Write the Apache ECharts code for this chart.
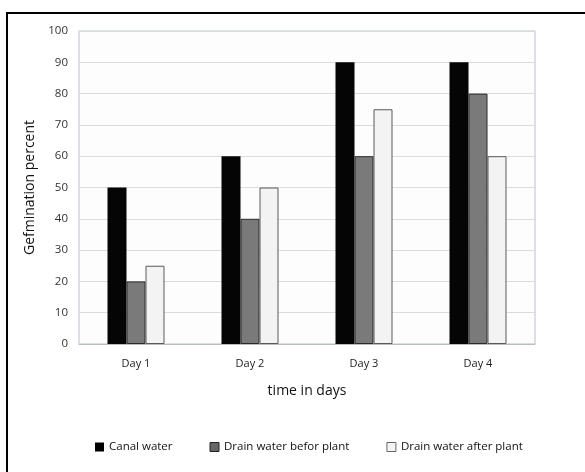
<!DOCTYPE html>
<html>
<head>
<meta charset="utf-8">
<script src="https://cdn.jsdelivr.net/npm/echarts@6/dist/echarts.min.js"></script>
<style>
  html, body { margin: 0; padding: 0; background: #fff; }
  #chart { width: 585px; height: 472px; }
</style>
</head>
<body>
<div id="chart"></div>
<script>
// Germination data per day
const days = ['Day 1', 'Day 2', 'Day 3', 'Day 4'];
const canalWater = [50, 60, 90, 90];
const drainBefore = [20, 40, 60, 80];
const drainAfter = [25, 50, 75, 60];
const yTicks = [0, 10, 20, 30, 40, 50, 60, 70, 80, 90, 100];

const font = 'Open Sans, Liberation Sans, sans-serif';

const chart = echarts.init(document.getElementById('chart'));

chart.setOption({
  animation: false,
  backgroundColor: '#fff',
  textStyle: { fontFamily: font },
  grid: { left: 79, right: 50, top: 31, bottom: 128, containLabel: false,
          show: true, borderColor: '#b4c2d4', borderWidth: 1, backgroundColor: '#fdfdfd' },
  graphic: [
    { type: 'polyline', silent: true,
      shape: { points: [[7, 472], [7, 13], [585, 13]] },
      style: { stroke: '#000', lineWidth: 2, fill: null } }
  ],
  legend: {
    bottom: 14,
    left: 90,
    itemGap: 37,
    itemWidth: 9,
    itemHeight: 9,
    icon: 'rect',
    textStyle: { fontSize: 11.5, color: '#111', fontFamily: font },
    data: [
      { name: 'Canal water', itemStyle: { color: '#000', borderWidth: 0 } },
      { name: 'Drain water befor plant', itemStyle: { color: '#666', borderColor: '#222', borderWidth: 1 } },
      { name: 'Drain water after plant', itemStyle: { color: '#f4f4f4', borderColor: '#666', borderWidth: 1 } }
    ]
  },
  xAxis: {
    type: 'category',
    data: days,
    name: 'time in days',
    nameLocation: 'middle',
    nameGap: 40,
    nameTextStyle: { fontSize: 14, color: '#111', fontFamily: font },
    axisLine: { show: true, lineStyle: { color: '#bcbcbc' } },
    axisTick: { show: false },
    axisLabel: { fontSize: 11, color: '#222', margin: 14, fontFamily: font }
  },
  yAxis: {
    type: 'value',
    min: yTicks[0],
    max: yTicks[yTicks.length - 1],
    interval: 10,
    name: 'Gefmination percent',
    nameLocation: 'middle',
    nameRotate: 90,
    nameGap: 36,
    nameTextStyle: { fontSize: 14, color: '#111', fontFamily: font },
    axisLine: { show: false },
    axisTick: { show: false },
    axisLabel: { fontSize: 11.5, color: '#333', margin: 11, fontFamily: font },
    splitLine: { lineStyle: { color: '#dcdcdc', width: 1 } }
  },
  series: [
    {
      name: 'Canal water', type: 'bar', data: canalWater,
      barWidth: 19, barGap: '0%',
      itemStyle: { color: '#050505', borderColor: '#000', borderWidth: 0 }
    },
    {
      name: 'Drain water befor plant', type: 'bar', data: drainBefore,
      barWidth: 19,
      itemStyle: { color: '#7a7a7a', borderColor: '#2a2a2a', borderWidth: 1 }
    },
    {
      name: 'Drain water after plant', type: 'bar', data: drainAfter,
      barWidth: 19,
      itemStyle: { color: '#f3f3f3', borderColor: '#5a5a5a', borderWidth: 1 }
    }
  ]
});
</script>
</body>
</html>
